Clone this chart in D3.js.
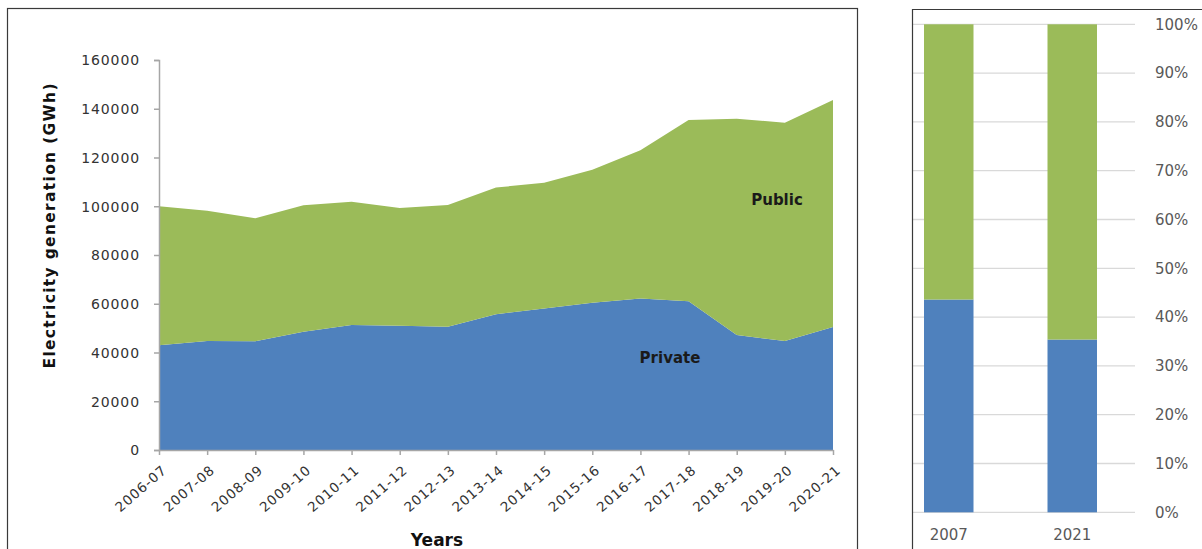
<!DOCTYPE html>
<html>
<head>
<meta charset="utf-8">
<script src="https://cdn.jsdelivr.net/npm/d3@7"></script>
<style>
  html, body { margin: 0; padding: 0; background: #fff; }
  svg { display: block; }
  text { font-family: "DejaVu Sans", Verdana, sans-serif; }
</style>
</head>
<body>
<svg id="chart" width="1202" height="549"></svg>
<script>
// ---------- data ----------
const years = ["2006-07","2007-08","2008-09","2009-10","2010-11","2011-12","2012-13",
               "2013-14","2014-15","2015-16","2016-17","2017-18","2018-19","2019-20","2020-21"];
const privateGen = [43000,44700,44600,48500,51300,51000,50600,55700,58100,60400,62200,61000,47200,44700,50500];
const totalGen   = [100000,98200,95100,100400,101800,99300,100500,107700,109600,115000,123000,135400,135900,134300,143600];
const publicGen  = totalGen.map((t, i) => t - privateGen[i]);
const yTicks = [0,20000,40000,60000,80000,100000,120000,140000,160000];

const shareYears = ["2007","2021"];
const privateShare = [43.6, 35.4];
const publicShare  = [56.4, 64.6];
const pctTicks = [0,10,20,30,40,50,60,70,80,90,100];

const cBlue = "#4F81BD", cGreen = "#9BBB59";

const svg = d3.select("#chart");

// ---------- left panel ----------
svg.append("rect").attr("x", 7.5).attr("y", 8.5).attr("width", 850).attr("height", 560)
  .attr("fill", "none").attr("stroke", "#3a3a3a").attr("stroke-width", 1.2);

const x = d3.scalePoint().domain(years).range([159, 833]);
const y = d3.scaleLinear().domain([0, 160000]).range([450, 60]);

const rows = years.map((yr, i) => ({ yr, priv: privateGen[i], pub: publicGen[i] }));
const stack = d3.stack().keys(["priv", "pub"])(rows);

const area = d3.area()
  .x(d => x(d.data.yr))
  .y0(d => y(d[0]))
  .y1(d => y(d[1]));

svg.append("g").selectAll("path").data(stack).join("path")
  .attr("d", area)
  .attr("fill", (d, i) => i === 0 ? cBlue : cGreen);

// y axis
const yAxis = svg.append("g").attr("transform", "translate(159,0)")
  .call(d3.axisLeft(y).tickValues(yTicks).tickSize(5).tickPadding(14).tickFormat(d3.format("d")));
yAxis.select(".domain").attr("stroke", "#a6a6a6").attr("stroke-width", 1.5);
yAxis.selectAll(".tick line").attr("stroke", "#a6a6a6").attr("stroke-width", 1.5);
yAxis.selectAll(".tick text").attr("fill", "#333")
  .style("font-size", "14px").style("letter-spacing", "0.9px")
  .attr("dy", "0.35em");

// x axis
const xAxis = svg.append("g").attr("transform", "translate(0,450)")
  .call(d3.axisBottom(x).tickSize(5).tickSizeOuter(0));
xAxis.select(".domain").attr("stroke", "#a6a6a6").attr("stroke-width", 1.5);
xAxis.selectAll(".tick line").attr("stroke", "#a6a6a6").attr("stroke-width", 1.5);
xAxis.selectAll(".tick text")
  .attr("fill", "#333")
  .style("font-size", "13.5px").style("letter-spacing", "0.9px")
  .attr("text-anchor", "end")
  .attr("y", 0).attr("dy", "0.35em")
  .attr("transform", "translate(5,18) rotate(-41)");

// axis titles
svg.append("text")
  .attr("transform", "translate(50,226) rotate(-90)")
  .attr("text-anchor", "middle").attr("dy", "0.35em")
  .style("font-size", "15.5px").style("font-weight", "bold")
  .attr("fill", "#111")
  .attr("textLength", 285).attr("lengthAdjust", "spacing")
  .text("Electricity generation (GWh)");

svg.append("text")
  .attr("x", 437).attr("y", 546)
  .attr("text-anchor", "middle")
  .style("font-size", "17px").style("font-weight", "bold")
  .attr("fill", "#111")
  .text("Years");

// series labels
svg.append("text").attr("x", 777).attr("y", 200).attr("dy", "0.35em")
  .attr("text-anchor", "middle").style("font-size", "15px").style("font-weight", "bold")
  .attr("fill", "#1a1a1a").text("Public");
svg.append("text").attr("x", 670).attr("y", 358).attr("dy", "0.35em")
  .attr("text-anchor", "middle").style("font-size", "15px").style("font-weight", "bold")
  .attr("fill", "#1a1a1a").text("Private");

// ---------- right panel ----------
const xb = d3.scaleBand().domain(shareYears).range([887, 1134]).paddingInner(0.6).paddingOuter(0.3);
const yb = d3.scaleLinear().domain([0, 100]).range([512.3, 24.3]);

svg.append("g").selectAll("line").data(pctTicks).join("line")
  .attr("x1", 913).attr("x2", 1135)
  .attr("y1", d => yb(d)).attr("y2", d => yb(d))
  .attr("stroke", "#d9d9d9").attr("stroke-width", 1.3);

const barRows = shareYears.map((yr, i) => ({ yr, priv: privateShare[i], pub: publicShare[i] }));
const barStack = d3.stack().keys(["priv", "pub"])(barRows);
const bw = 49.5;
svg.append("g").selectAll("g").data(barStack).join("g")
  .attr("fill", (d, i) => i === 0 ? cBlue : cGreen)
  .selectAll("rect").data(d => d).join("rect")
  .attr("x", d => xb(d.data.yr) + xb.bandwidth() / 2 - bw / 2)
  .attr("width", bw)
  .attr("y", d => yb(d[1]))
  .attr("height", d => yb(d[0]) - yb(d[1]));

svg.append("g").selectAll("text").data(pctTicks).join("text")
  .attr("x", 1155).attr("y", d => yb(d)).attr("dy", "0.35em")
  .style("font-size", "15px").attr("fill", "#595959")
  .text(d => d + "%");

svg.append("g").selectAll("text").data(shareYears).join("text")
  .attr("x", d => xb(d) + xb.bandwidth() / 2).attr("y", 535).attr("dy", "0.35em")
  .attr("text-anchor", "middle")
  .style("font-size", "15px").attr("fill", "#595959")
  .text(d => d);

// right panel frame (left & top edges)
svg.append("path").attr("d", "M912.5,560 V9.5 H1210")
  .attr("fill", "none").attr("stroke", "#3a3a3a").attr("stroke-width", 1.2);
</script>
</body>
</html>
